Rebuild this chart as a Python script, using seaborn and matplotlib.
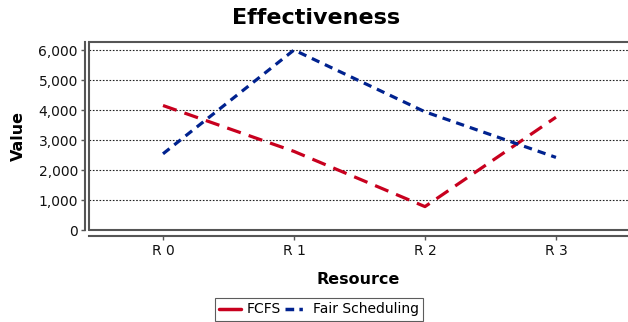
import matplotlib
matplotlib.use("Agg")
import matplotlib.pyplot as plt
import seaborn as sns
import pandas as pd
from matplotlib.lines import Line2D
from matplotlib.ticker import FuncFormatter

categories = ["R 0", "R 1", "R 2", "R 3"]
fcfs = [4150, 2620, 780, 3760]
fair = [2540, 6000, 3940, 2420]
series_names = ["FCFS", "Fair Scheduling"]

df = pd.DataFrame({
    "Resource": list(range(len(categories))) * 2,
    "Value": fcfs + fair,
    "Series": [series_names[0]] * len(categories) + [series_names[1]] * len(categories),
})

sns.set_style("white")
plt.rcParams['font.family'] = ['DejaVu Sans']

colors = {"FCFS": "#c8001e", "Fair Scheduling": "#00228f"}
dashes = {"FCFS": (4.5, 2.6), "Fair Scheduling": (2.6, 1.9)}

fig = plt.figure(figsize=(6.28, 3.22), dpi=100)
ax = fig.add_axes([89/628, 1 - 230/322, (628 - 89)/628, (230 - 42)/322])

sns.lineplot(data=df, x="Resource", y="Value", hue="Series", style="Series",
             palette=colors, dashes=dashes, linewidth=2.3, ax=ax, legend=False)

ax.set_xlim(-0.565, 3.55)
ax.set_ylim(0, 6267)
ax.set_xticks(range(len(categories)))
ax.set_xticklabels(categories)
ax.set_yticks([0, 1000, 2000, 3000, 4000, 5000, 6000])
ax.yaxis.set_major_formatter(FuncFormatter(lambda v, p: f"{int(v):,}"))

ax.grid(axis='y', color='#222222', linestyle=(0, (1.5, 1.5)), linewidth=0.8)
ax.grid(axis='x', visible=False)
ax.set_axisbelow(True)

ax.spines["right"].set_visible(False)
ax.spines["top"].set_color("#555555")
ax.spines["top"].set_linewidth(1.5)
ax.spines["left"].set_position(("outward", 3))
ax.spines["bottom"].set_position(("outward", 4))
for s in ["left", "bottom"]:
    ax.spines[s].set_color("#555555")
    ax.spines[s].set_linewidth(1.5)

# inner plot outline (left and bottom edges of the data area)
frame_kw = dict(transform=ax.transAxes, color="#555555", linewidth=1.5, clip_on=False, zorder=5)
ax.add_line(Line2D([0, 0], [0, 1], **frame_kw))
ax.add_line(Line2D([0, 1], [0, 0], **frame_kw))

ax.tick_params(axis='y', direction='out', length=3, width=1, color="#555555",
               labelsize=10, labelcolor="#111111", left=True, pad=2)
ax.tick_params(axis='x', direction='out', length=3, width=1, color="#555555",
               labelsize=10, labelcolor="#111111", bottom=True, pad=3)

ax.set_ylabel("Value", fontsize=11.5, fontweight='bold', labelpad=9, color="black")
ax.set_xlabel("Resource", fontsize=11.5, fontweight='bold', labelpad=10, color="black")

fig.text(0.503, 0.945, "Effectiveness", ha='center', va='center',
         fontsize=16, fontweight='heavy', color="black")

handles = [
    Line2D([], [], color=colors["FCFS"], linewidth=2.5, linestyle='-'),
    Line2D([], [], color=colors["Fair Scheduling"], linewidth=2.5, linestyle=(0, (2.5, 1.5, 1, 1.5))),
]
leg = fig.legend(handles, series_names, loc='lower center', bbox_to_anchor=(0.508, 0.0),
                 ncol=2, frameon=True, fancybox=False, fontsize=10, handlelength=1.6,
                 handletextpad=0.4, columnspacing=0.3, borderpad=0.3, borderaxespad=0.1)
leg.get_frame().set_edgecolor("#333333")
leg.get_frame().set_linewidth(0.8)
for t in leg.get_texts():
    t.set_color("black")

fig.savefig("out.png", dpi=100)
